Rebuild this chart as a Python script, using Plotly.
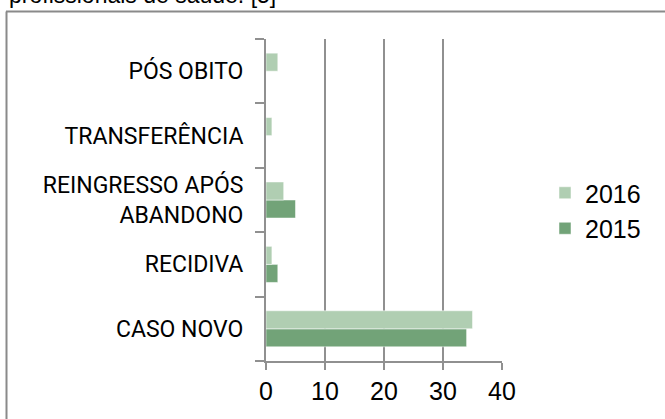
import plotly.graph_objects as go

categories = ["CASO NOVO", "RECIDIVA", "REINGRESSO APÓS<br>ABANDONO", "TRANSFERÊNCIA", "PÓS OBITO"]
values_2015 = [34, 2, 5, 0, 0]
values_2016 = [35, 1, 3, 1, 2]
x_ticks = [0, 10, 20, 30, 40]

W, H = 665, 419
L, R, T, B = 266, 163, 39, 58
pw = W - L - R
ph = H - T - B

def px_to_paper_x(px):
    return (px - L) / pw

def px_to_paper_y(py):
    return (H - B - py) / ph

fig = go.Figure()
fig.add_trace(go.Bar(y=categories, x=values_2015, orientation="h", name="2015",
                     marker=dict(color="#72A378", line=dict(color="white", width=0.5)),
                     legendrank=2))
fig.add_trace(go.Bar(y=categories, x=values_2016, orientation="h", name="2016",
                     marker=dict(color="#B0CEB2", line=dict(color="white", width=0.5)),
                     legendrank=1))

font = "Liberation Sans, Arial, sans-serif"
catfont = "Roboto, Liberation Sans, sans-serif"
fig.update_layout(
    width=W, height=H,
    margin=dict(l=L, r=R, t=T, b=B, pad=0, autoexpand=False),
    paper_bgcolor="white", plot_bgcolor="white",
    barmode="group", bargap=0.44, bargroupgap=0,
    font=dict(family=font, size=22, color="black"),
    showlegend=True,
    legend=dict(x=px_to_paper_x(545), y=px_to_paper_y(170), xanchor="left", yanchor="top",
                traceorder="normal", tracegroupgap=0,
                font=dict(size=25, family=font), bgcolor="rgba(0,0,0,0)",
                itemwidth=30),
    xaxis=dict(range=[0, 40], tickvals=x_ticks, ticktext=[str(v) for v in x_ticks],
               showgrid=True, gridcolor="#909090", gridwidth=1.5,
               showline=True, linecolor="#909090", linewidth=1.5,
               ticks="outside", ticklen=7, tickcolor="#909090", tickwidth=1.5,
               tickfont=dict(size=25), zeroline=False, fixedrange=True, automargin=False),
    yaxis=dict(type="category", showline=True, linecolor="#909090", linewidth=2,
               ticks="outside", ticklen=9, tickcolor="#909090", tickwidth=1.5,
               tickson="boundaries", showgrid=False, ticklabelstandoff=16,
               tickfont=dict(size=23, family=catfont), fixedrange=True, automargin=False),
)

# outer frame (left and top borders of the embedding box)
fig.add_shape(type="line", xref="paper", yref="paper",
              x0=px_to_paper_x(6.5), x1=px_to_paper_x(6.5), y0=px_to_paper_y(11.5), y1=px_to_paper_y(430),
              line=dict(color="#8a8a8a", width=2))
fig.add_shape(type="line", xref="paper", yref="paper",
              x0=px_to_paper_x(6), x1=px_to_paper_x(680), y0=px_to_paper_y(11.5), y1=px_to_paper_y(11.5),
              line=dict(color="#8a8a8a", width=2))

fig.add_annotation(text="profissionais de saúde. [5]", xref="paper", yref="paper",
                   x=px_to_paper_x(7), y=px_to_paper_y(10), xanchor="left", yanchor="bottom",
                   showarrow=False, font=dict(size=23, family=font, color="black"))

fig.write_html("out.html", config={"displayModeBar": False},
               post_script="document.body.style.margin='0';")
